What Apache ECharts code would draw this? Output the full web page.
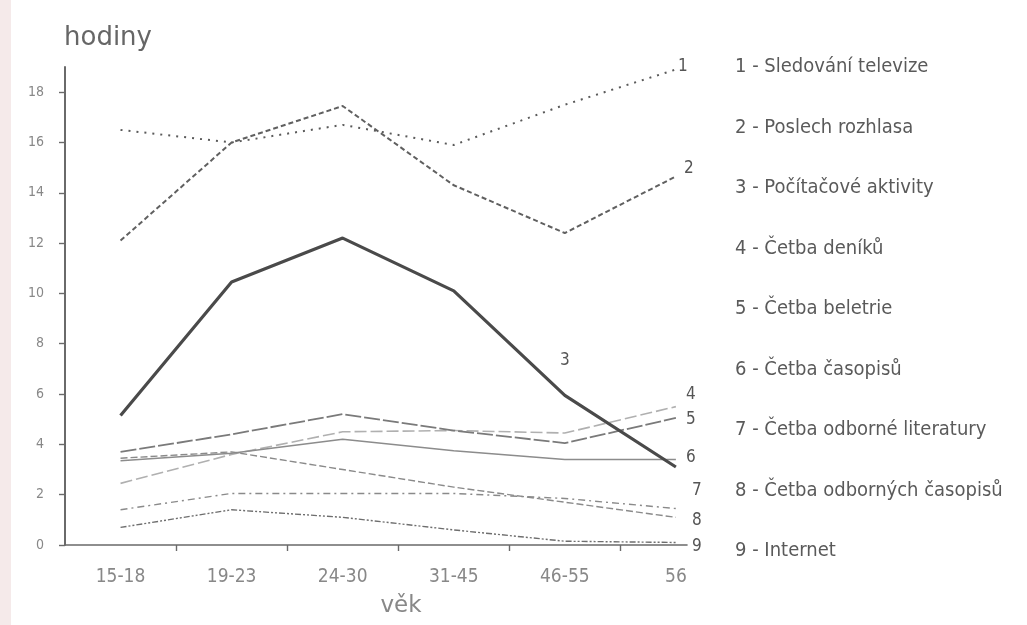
<!DOCTYPE html>
<html>
<head>
<meta charset="utf-8">
<script src="https://cdn.jsdelivr.net/npm/echarts@6/dist/echarts.min.js"></script>
<style>
html,body{margin:0;padding:0;background:#fff;}
#c{width:1027px;height:625px;}
</style>
</head>
<body>
<div id="c"></div>
<script>
const categories = ['15-18', '19-23', '24-30', '31-45', '46-55', '56'];
const seriesNames = [
  '1 - Sledování televize',
  '2 - Poslech rozhlasa',
  '3 - Počítačové aktivity',
  '4 - Četba deníků',
  '5 - Četba beletrie',
  '6 - Četba časopisů',
  '7 - Četba odborné literatury',
  '8 - Četba odborných časopisů',
  '9 - Internet'
];
const tv        = [16.5, 16.0, 16.7, 15.9, 17.5, 18.9];
const radio     = [12.1, 16.0, 17.45, 14.3, 12.4, 14.65];
const computer  = [5.15, 10.45, 12.2, 10.1, 5.95, 3.1];
const daily     = [2.45, 3.6, 4.5, 4.55, 4.45, 5.5];
const fiction   = [3.7, 4.4, 5.2, 4.55, 4.05, 5.05];
const magazines = [3.35, 3.65, 4.2, 3.75, 3.4, 3.4];
const proLit    = [1.4, 2.05, 2.05, 2.05, 1.85, 1.45];
const proMag    = [3.45, 3.7, 3.0, 2.3, 1.7, 1.1];
const internet  = [0.7, 1.4, 1.1, 0.6, 0.15, 0.1];
const yTicks = [0, 2, 4, 6, 8, 10, 12, 14, 16, 18];

const allValues = [tv, radio, computer, daily, fiction, magazines, proLit, proMag, internet];
const endMarks = ['1', '2', '', '4', '5', '6', '7', '8', '9'];
const styles = [
  {color:'#5a5a5a', width:2, type:[2,6], offset:[2,-3]},
  {color:'#606060', width:2, type:[5,3], offset:[8,-8]},
  {color:'#4a4a4a', width:3.2, type:'solid', offset:[0,0]},
  {color:'#b0b0b0', width:1.6, type:[12,4], offset:[10,-12]},
  {color:'#7a7a7a', width:1.8, type:[16,3], offset:[10,2]},
  {color:'#8c8c8c', width:1.5, type:'solid', offset:[10,-2]},
  {color:'#8a8a8a', width:1.4, type:[7,4,2,4], offset:[16,-18]},
  {color:'#8a8a8a', width:1.4, type:[7,3], offset:[16,3]},
  {color:'#6e6e6e', width:1.4, type:[6,2,2,2,2,2], offset:[16,4]}
];
const FONT = '"DejaVu Sans Condensed", "Liberation Sans Narrow", "DejaVu Sans", sans-serif';

const series = allValues.map((vals, s) => {
  const st = styles[s];
  const data = vals.map((v, i) => {
    if (s === 2 && i === 4) {
      return {value: [i, v], label: {show: true, formatter: '3', position: 'top', distance: 26,
        color: '#555', fontSize: 17, fontFamily: FONT}};
    }
    return [i, v];
  });
  return {
    name: seriesNames[s],
    type: 'line',
    data: data,
    symbol: s === 2 ? 'circle' : 'none',
    symbolSize: 1,
    showSymbol: s === 2,
    smooth: false,
    z: s === 2 ? 5 : 3,
    lineStyle: {color: st.color, width: st.width, type: st.type},
    itemStyle: {color: 'rgba(0,0,0,0)', borderWidth: 0},
    endLabel: endMarks[s] ? {show: true, formatter: endMarks[s], offset: st.offset, distance: 0,
      color: '#555', fontSize: 17, fontFamily: FONT} : {show: false},
    emphasis: {disabled: true},
    silent: true
  };
});

const chart = echarts.init(document.getElementById('c'), null, {renderer: 'canvas'});
chart.setOption({
  backgroundColor: '#ffffff',
  animation: false,
  graphic: [
    {type: 'rect', left: 0, top: 0, shape: {width: 11, height: 625}, style: {fill: '#f5eaea'}, silent: true}
  ],
  grid: {left: 65, right: 340, top: 67, bottom: 80, containLabel: false},
  legend: {
    data: seriesNames,
    orient: 'vertical',
    left: 725,
    top: 50,
    itemWidth: 0,
    itemHeight: 0,
    itemGap: 36.5,
    selectedMode: false,
    icon: 'rect',
    itemStyle: {opacity: 0},
    lineStyle: {opacity: 0},
    textStyle: {color: '#5a5a5a', fontSize: 20, fontFamily: FONT, lineHeight: 24}
  },
  xAxis: {
    type: 'value',
    min: -0.5,
    max: 5.1,
    name: 'věk',
    nameLocation: 'middle',
    nameGap: 50,
    nameTextStyle: {color: '#888', fontSize: 23, fontFamily: '"DejaVu Sans", sans-serif', padding: [0, 0, 0, 50]},
    axisLine: {show: true, onZero: false, lineStyle: {color: '#6a6a6a', width: 1.6}},
    axisTick: {show: true, customValues: [0.5, 1.5, 2.5, 3.5, 4.5], length: 6, inside: false,
      lineStyle: {color: '#6a6a6a', width: 1.4}},
    axisLabel: {customValues: [0, 1, 2, 3, 4, 5], formatter: v => categories[Math.round(v)],
      color: '#888', fontSize: 19, fontFamily: FONT, margin: 23},
    splitLine: {show: false}
  },
  yAxis: {
    type: 'value',
    min: 0,
    max: 19,
    name: 'hodiny',
    nameLocation: 'end',
    nameGap: 16,
    nameTextStyle: {color: '#666', fontSize: 26, fontFamily: '"DejaVu Sans", sans-serif', align: 'left', padding: [0,0,0,-1]},
    axisLine: {show: true, onZero: false, lineStyle: {color: '#5a5a5a', width: 1.8}},
    axisTick: {show: true, customValues: yTicks, length: 6, lineStyle: {color: '#6a6a6a', width: 1.4}},
    axisLabel: {customValues: yTicks, color: '#888', fontSize: 14, fontFamily: FONT, margin: 21},
    splitLine: {show: false}
  },
  series: series
});
</script>
</body>
</html>
